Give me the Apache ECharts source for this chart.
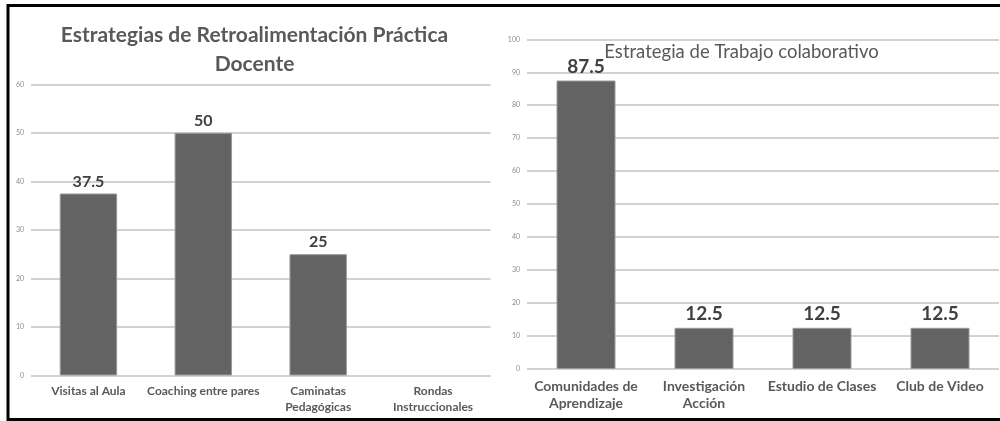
<!DOCTYPE html>
<html>
<head>
<meta charset="utf-8">
<script src="https://cdn.jsdelivr.net/npm/echarts@6/dist/echarts.min.js"></script>
<style>
  html, body { margin: 0; padding: 0; background: #fff; }
  #chart { width: 1000px; height: 421px; }
</style>
</head>
<body>
<div id="chart"></div>
<script>
// Retroalimentación de la práctica docente (%)
const retroTitle = 'Estrategias de Retroalimentación Práctica\nDocente';
const retroCategories = ['Visitas al Aula', 'Coaching entre pares', 'Caminatas\nPedagógicas', 'Rondas\nInstruccionales'];
const retroValues = [37.5, 50, 25, 0];
const retroTicks = { max: 60, interval: 10 };

// Trabajo colaborativo (%)
const colabTitle = 'Estrategia de Trabajo colaborativo';
const colabCategories = ['Comunidades de\nAprendizaje', 'Investigación\nAcción', 'Estudio de Clases', 'Club de Video'];
const colabValues = [87.5, 12.5, 12.5, 12.5];
const colabTicks = { max: 100, interval: 10 };

const FONT = 'Lato, "Open Sans", sans-serif';
const BAR = '#636363';
const GRID_LINE = '#d2d2d2';

function yAxis(idx, ticks) {
  return {
    type: 'value', gridIndex: idx, min: 0, max: ticks.max, interval: ticks.interval,
    axisLine: { show: false }, axisTick: { show: false },
    axisLabel: { color: '#8c8c8c', fontSize: 7, fontFamily: FONT, margin: 7 },
    splitLine: { lineStyle: { color: GRID_LINE, width: 2 } }
  };
}
function xAxis(idx, cats, size, lh, margin) {
  return {
    type: 'category', gridIndex: idx, data: cats,
    axisLine: { show: false }, axisTick: { show: false },
    axisLabel: { color: '#595959', fontSize: size, fontWeight: 'bold', fontFamily: FONT,
                 lineHeight: lh, margin: margin, interval: 0 }
  };
}
function bars(idx, values, labelSize) {
  // a zero value draws no bar outline
  const data = values.map(v => (v === 0 ? { value: 0, itemStyle: { borderWidth: 0 } } : v));
  return {
    type: 'bar', xAxisIndex: idx, yAxisIndex: idx, data: data, barWidth: '50%',
    itemStyle: { color: BAR, borderColor: '#9a9a9a', borderWidth: 1 },
    label: { show: true, position: 'top', distance: 4, color: '#404040', fontSize: labelSize,
             fontWeight: 'bold', fontFamily: FONT,
             formatter: p => (p.value ? String(p.value) : '') }
  };
}

const chart = echarts.init(document.getElementById('chart'));
chart.setOption({
  animation: false,
  backgroundColor: '#fff',
  grid: [
    { left: 31, right: 509.5, top: 84.3, bottom: 45.5 },
    { left: 527, right: 1, top: 39.3, bottom: 52 }
  ],
  xAxis: [
    xAxis(0, retroCategories, 12, 16, 8),
    xAxis(1, colabCategories, 14, 17, 9)
  ],
  yAxis: [yAxis(0, retroTicks), yAxis(1, colabTicks)],
  series: [bars(0, retroValues, 16), bars(1, colabValues, 19)],
  graphic: [
    { type: 'rect', z: 100, silent: true,
      shape: { x: 8, y: 5.5, width: 1000, height: 414 },
      style: { fill: 'none', stroke: '#000', lineWidth: 3 } },
    { type: 'text', x: 254.5, y: 21, z: 50,
      style: { text: retroTitle, fill: '#595959', font: 'bold 21px ' + FONT,
               textAlign: 'center', lineHeight: 29 } },
    { type: 'text', x: 741.5, y: 43, z: 50,
      style: { text: colabTitle, fill: '#595959', font: '18.5px ' + FONT,
               textAlign: 'center' } }
  ]
});
</script>
</body>
</html>
